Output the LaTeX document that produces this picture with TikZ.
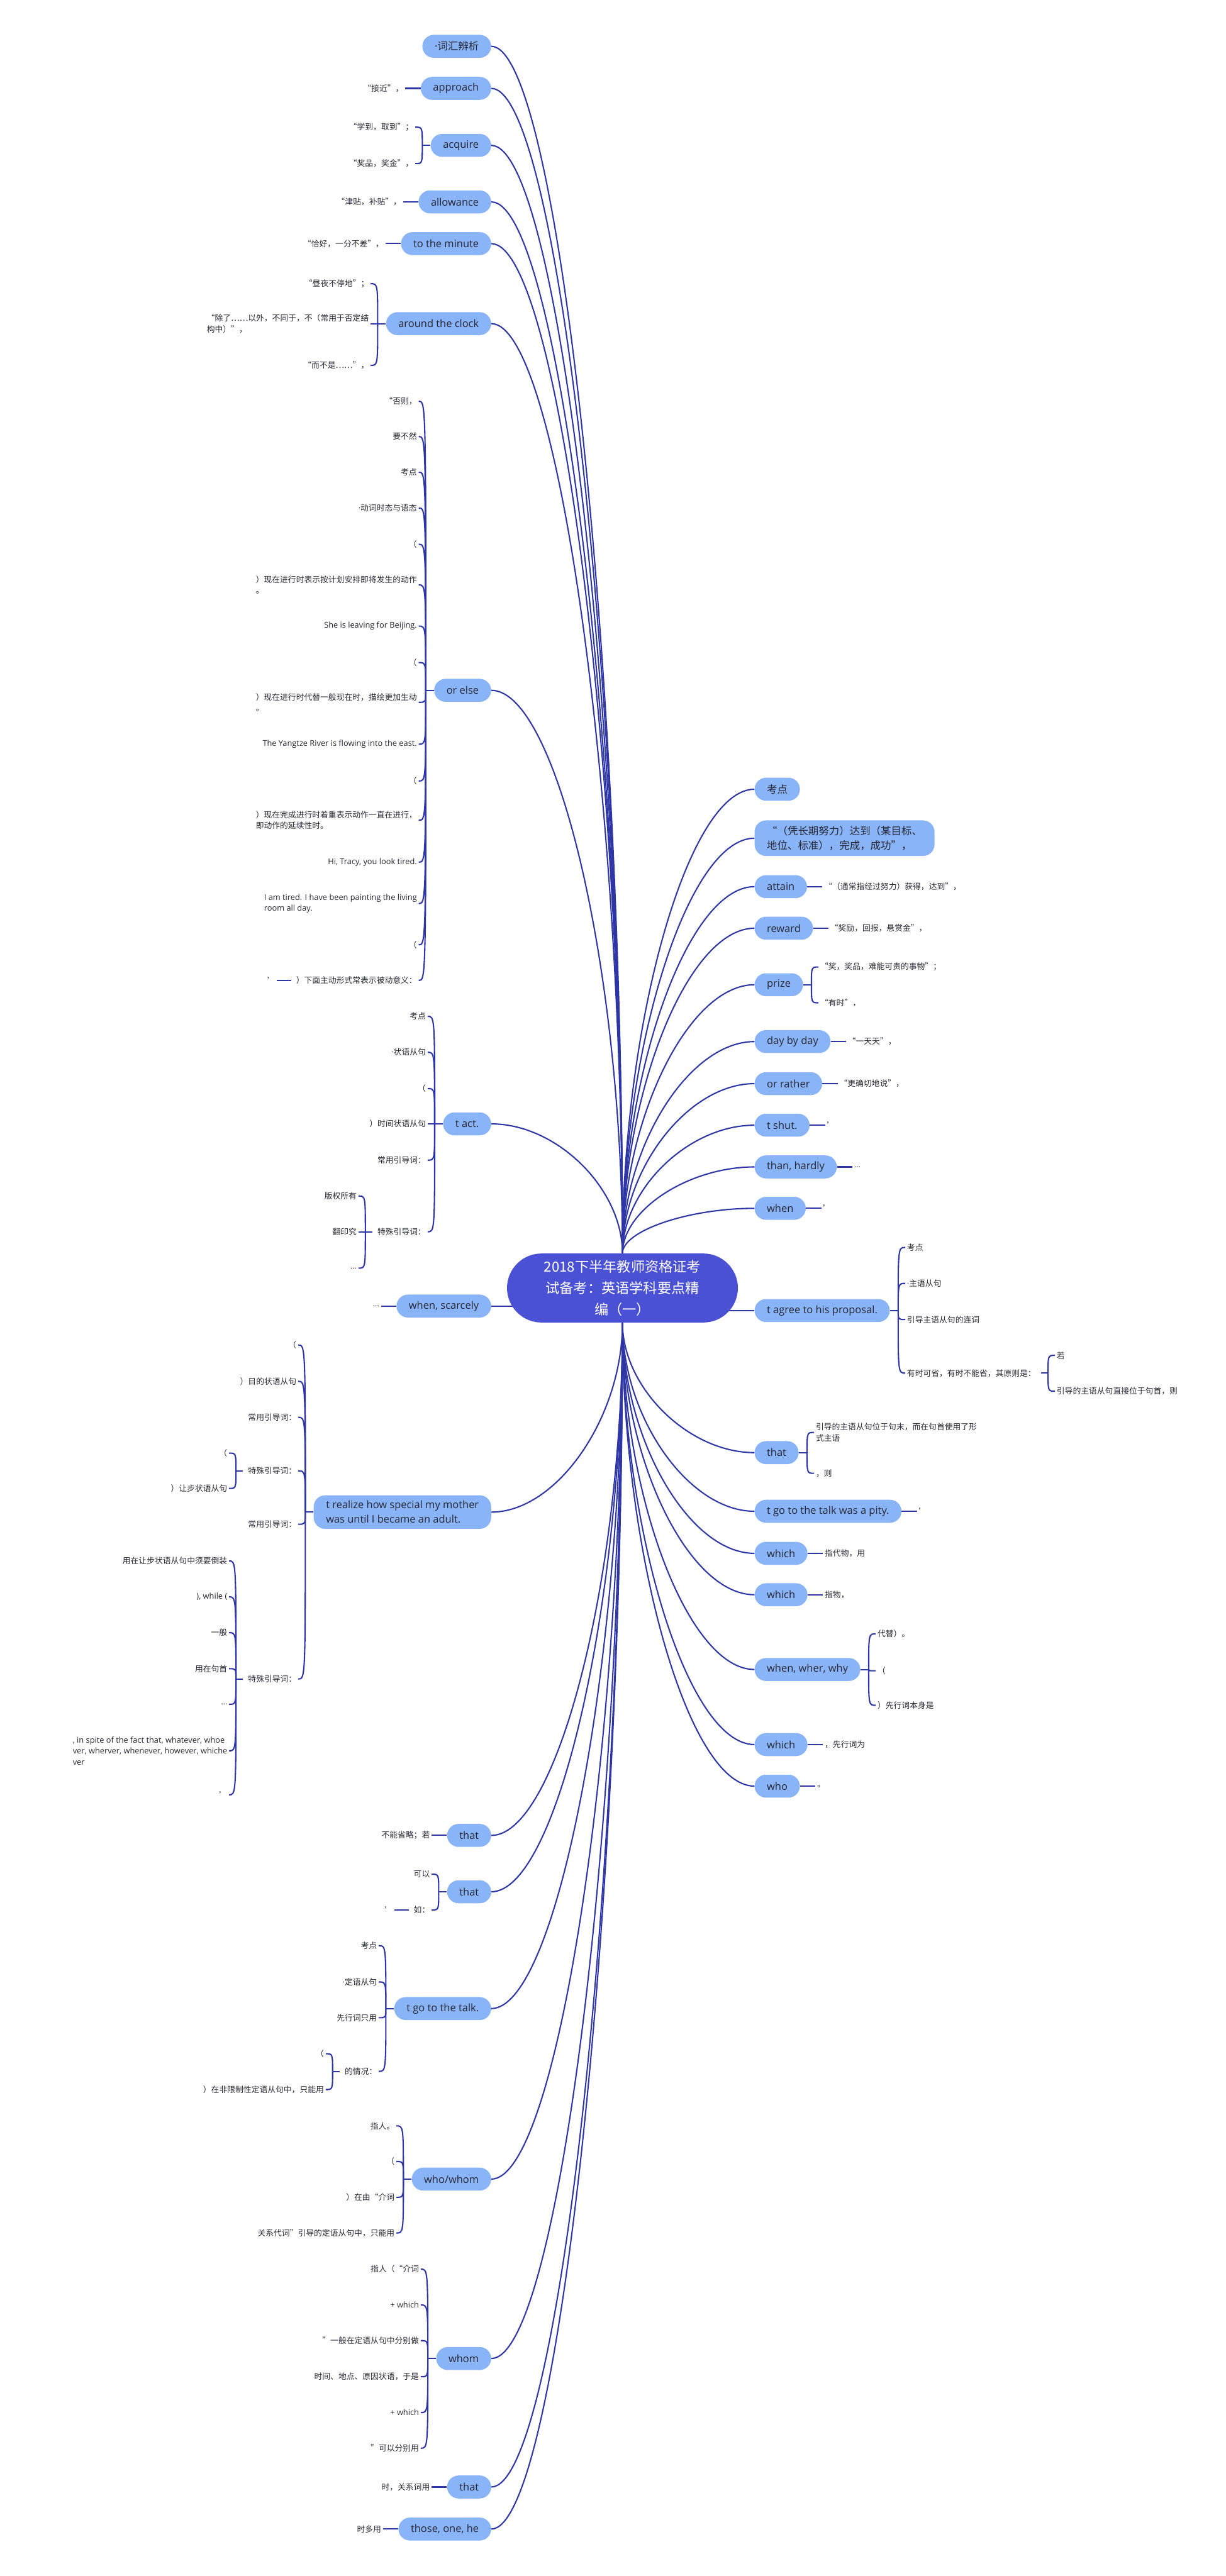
\documentclass[tikz,border=0pt]{standalone}
\usepackage{fontspec}
\setmainfont{Noto Sans CJK SC}
\newfontfamily\latin{Open Sans}
\usetikzlibrary{calc,backgrounds}
\definecolor{rootblue}{RGB}{74,81,212}
\definecolor{topicblue}{RGB}{138,180,248}
\definecolor{linkblue}{RGB}{46,54,166}
\definecolor{inkgray}{RGB}{38,38,50}
\newcommand{\md}{{\latin ·}}

\begin{document}
\begin{tikzpicture}[x=2pt, y=-2pt,
    root/.style={fill=rootblue, text=white, rounded corners=42pt, minimum width=281pt, minimum height=84pt, align=center, font=\fontsize{17}{26}\selectfont},
    topic/.style={fill=topicblue, text=inkgray, rounded corners=14pt, minimum height=28pt, inner xsep=15pt, inner ysep=6.8pt, align=left, font=\fontsize{12.6}{17.6}\selectfont},
    etopic/.style={topic, font=\latin\fontsize{12.6}{17.6}\selectfont},
    leaf/.style={text=inkgray, inner sep=2pt, align=left, font=\fontsize{9.8}{13.4}\selectfont},
    eleaf/.style={leaf, font=\latin\fontsize{9.8}{13.4}\selectfont},
    link/.style={draw=linkblue, line width=1.6pt},
    branch/.style={link, to path={.. controls ($(\tikztostart)!0.5!(\tikztostart |- \tikztotarget)$) and ($(\tikztotarget)!0.5!(\tikztotarget -| \tikztostart)$) .. (\tikztotarget)}},
    hook/.style={link, to path={.. controls (\tikztostart |- \tikztotarget) and (\tikztostart |- \tikztotarget) .. (\tikztotarget)}}]
\useasboundingbox (0,0) rectangle (746,1568);

\node[root] (root) at (378.8,784) {2018下半年教师资格证考\\试备考：英语学科要点精\\编（一）};

% left topics
\node[topic, anchor=east] (cihui) at (299,28.2) {\md 词汇辨析};
\node[etopic, anchor=east] (approach) at (299,53.8) {approach};
\node[etopic, anchor=east] (acquire) at (299,88.5) {acquire};
\node[etopic, anchor=east] (allowance) at (299,122.9) {allowance};
\node[etopic, anchor=east] (minute) at (299,148.3) {to the minute};
\node[etopic, anchor=east] (clock) at (299,197) {around the clock};
\node[etopic, anchor=east] (orelse) at (299,420.2) {or else};
\node[etopic, anchor=east] (tact) at (299,684.1) {t act.};
\node[etopic, anchor=east] (scarcely) at (299,795) {when, scarcely};
\node[etopic, anchor=east] (realize) at (299,920.4) {t realize how special my mother\\was until I became an adult.};
\node[etopic, anchor=east] (thatA) at (299,1117.2) {that};
\node[etopic, anchor=east] (thatB) at (299,1151.5) {that};
\node[etopic, anchor=east] (gotalk) at (299,1222.6) {t go to the talk.};
\node[etopic, anchor=east] (whowhom) at (299,1326.4) {who/whom};
\node[etopic, anchor=east] (whom) at (299,1435.6) {whom};
\node[etopic, anchor=east] (thatC) at (299,1513.8) {that};
\node[etopic, anchor=east] (those) at (299,1539.4) {those, one, he};

% right topics
\node[topic, anchor=west] (kaodian) at (459.1,480.4) {考点};
\node[topic, anchor=west] (pingchang) at (459.1,510.2) {“（凭长期努力）达到（某目标、\\地位、标准），完成，成功”，};
\node[etopic, anchor=west] (attain) at (459.1,539.7) {attain};
\node[etopic, anchor=west] (reward) at (459.1,565) {reward};
\node[etopic, anchor=west] (prize) at (459.1,599.4) {prize};
\node[etopic, anchor=west] (daybyday) at (459.1,634) {day by day};
\node[etopic, anchor=west] (orrather) at (459.1,659.6) {or rather};
\node[etopic, anchor=west] (tshut) at (459.1,684.9) {t shut.};
\node[etopic, anchor=west] (hardly) at (459.1,710.3) {than, hardly};
\node[etopic, anchor=west] (whenR) at (459.1,735.5) {when};
\node[etopic, anchor=west] (agree) at (459.1,797.7) {t agree to his proposal.};
\node[etopic, anchor=west] (thatR) at (459.1,884.2) {that};
\node[etopic, anchor=west] (pity) at (459.1,919.9) {t go to the talk was a pity.};
\node[etopic, anchor=west] (whichA) at (459.1,945.5) {which};
\node[etopic, anchor=west] (whichB) at (459.1,970.7) {which};
\node[etopic, anchor=west] (whenwhy) at (459.1,1016.2) {when, wher, why};
\node[etopic, anchor=west] (whichC) at (459.1,1061.9) {which};
\node[etopic, anchor=west] (who) at (459.1,1087.2) {who};

% single leaves
\foreach \s/\n/\t in {leaf/approach/{“接近”，}, leaf/allowance/{“津贴，补贴”，}, leaf/minute/{“恰好，一分不差”，},
    eleaf/scarcely/{…}, leaf/thatA/{不能省略；若}, leaf/thatC/{时，关系词用}, leaf/those/{时多用}}
  {\node[\s, anchor=east] (\n-1) at ($(\n.west)+(-9.3,0)$) {\t};
   \draw[link] (\n.west) -- (\n-1.east);}
\foreach \s/\n/\t in {leaf/attain/{“（通常指经过努力）获得，达到”，}, leaf/reward/{“奖励，回报，悬赏金”，},
    leaf/daybyday/{“一天天”，}, leaf/orrather/{“更确切地说”，}, leaf/tshut/{’}, eleaf/hardly/{…}, leaf/whenR/{’},
    leaf/pity/{’}, leaf/whichA/{指代物，用}, leaf/whichB/{指物，}, leaf/whichC/{，先行词为}, leaf/who/{。}}
  {\node[\s, anchor=west] (\n-1) at ($(\n.east)+(9.3,0)$) {\t};
   \draw[link] (\n.east) -- (\n-1.west);}

% bracket spines
\foreach \n in {acquire,clock,orelse,tact,realize,thatB,gotalk,whowhom,whom}
  {\coordinate (\n-s) at ($(\n.west)+(-5,0)$);
   \coordinate (\n-h) at ($(\n.west)+(-9.3,0)$);
   \draw[link] (\n.west) -- (\n-s);}
\foreach \n in {prize,agree,thatR,whenwhy}
  {\coordinate (\n-s) at ($(\n.east)+(5,0)$);
   \coordinate (\n-h) at ($(\n.east)+(9.3,0)$);
   \draw[link] (\n.east) -- (\n-s);}

\foreach \s/\t/\y [count=\i] in {leaf/{“学到，取到”；}/77.4, leaf/{“奖品，奖金”，}/99.6}
  {\node[\s, anchor=east] (acquire-\i) at (acquire-h |- 0,\y) {\t};
   \draw[hook] (acquire-s) to (acquire-\i.east);}
\foreach \s/\t/\y [count=\i] in {leaf/{“昼夜不停地”；}/172.7, leaf/{“除了……以外，不同于，不（常用于否定结\\构中）”，}/197, leaf/{“而不是……”，}/222.4}
  {\node[\s, anchor=east] (clock-\i) at (clock-h |- 0,\y) {\t};
   \draw[hook] (clock-s) to (clock-\i.east);}
\foreach \s/\t/\y [count=\i] in {leaf/{“否则，}/244.2, leaf/{要不然}/265.7, leaf/{考点}/287.4, leaf/{\md 动词时态与语态}/309.2,
    leaf/{（}/331.3, leaf/{）现在进行时表示按计划安排即将发生的动作\\。}/356, eleaf/{She is leaving for Beijing.}/381.1,
    leaf/{（}/403.3, leaf/{）现在进行时代替一般现在时，描绘更加生动\\。}/427.5, eleaf/{The Yangtze River is flowing into the east.}/453,
    leaf/{（}/475.4, leaf/{）现在完成进行时着重表示动作一直在进行，\\即动作的延续性时。}/499.3, eleaf/{Hi, Tracy, you look tired.}/524.8,
    eleaf/{I am tired. I have been painting the living\\room all day.}/550, leaf/{（}/575.1, leaf/{）下面主动形式常表示被动意义：}/596.8}
  {\node[\s, anchor=east] (orelse-\i) at (orelse-h |- 0,\y) {\t};
   \draw[hook] (orelse-s) to (orelse-\i.east);}
\foreach \s/\t/\y [count=\i] in {leaf/{考点}/618.6, leaf/{\md 状语从句}/640.5, leaf/{（}/662.6, leaf/{）时间状语从句}/684.1,
    leaf/{常用引导词：}/706.2, leaf/{特殊引导词：}/749.8}
  {\node[\s, anchor=east] (tact-\i) at (tact-h |- 0,\y) {\t};
   \draw[hook] (tact-s) to (tact-\i.east);}
\foreach \s/\t/\y [count=\i] in {leaf/{（}/818.7, leaf/{）目的状语从句}/840.8, leaf/{常用引导词：}/862.7,
    leaf/{特殊引导词：}/895.3, leaf/{常用引导词：}/927.8, leaf/{特殊引导词：}/1022}
  {\node[\s, anchor=east] (realize-\i) at (realize-h |- 0,\y) {\t};
   \draw[hook] (realize-s) to (realize-\i.east);}
\foreach \s/\t/\y [count=\i] in {leaf/{可以}/1140.8, leaf/{如：}/1162.6}
  {\node[\s, anchor=east] (thatB-\i) at (thatB-h |- 0,\y) {\t};
   \draw[hook] (thatB-s) to (thatB-\i.east);}
\foreach \s/\t/\y [count=\i] in {leaf/{考点}/1184.3, leaf/{\md 定语从句}/1206.4, leaf/{先行词只用}/1228.2, leaf/{的情况：}/1260.8}
  {\node[\s, anchor=east] (gotalk-\i) at (gotalk-h |- 0,\y) {\t};
   \draw[hook] (gotalk-s) to (gotalk-\i.east);}
\foreach \s/\t/\y [count=\i] in {leaf/{指人。}/1294, leaf/{（}/1315.7, leaf/{）在由“介词}/1337.5, leaf/{关系代词”引导的定语从句中，只能用}/1359.2}
  {\node[\s, anchor=east] (whowhom-\i) at (whowhom-h |- 0,\y) {\t};
   \draw[hook] (whowhom-s) to (whowhom-\i.east);}
\foreach \s/\t/\y [count=\i] in {leaf/{指人（“介词}/1381.2, eleaf/{+ which}/1403, leaf/{”一般在定语从句中分别做}/1424.7,
    leaf/{时间、地点、原因状语，于是}/1446.7, eleaf/{+ which}/1468.5, leaf/{”可以分别用}/1490.2}
  {\node[\s, anchor=east] (whom-\i) at (whom-h |- 0,\y) {\t};
   \draw[hook] (whom-s) to (whom-\i.east);}

\foreach \s/\t/\y [count=\i] in {leaf/{“奖，奖品，难能可贵的事物”；}/588.6, leaf/{“有时”，}/610.4}
  {\node[\s, anchor=west] (prize-\i) at (prize-h |- 0,\y) {\t};
   \draw[hook] (prize-s) to (prize-\i.west);}
\foreach \s/\t/\y [count=\i] in {leaf/{考点}/759.3, leaf/{\md 主语从句}/781.2, leaf/{引导主语从句的连词}/803.2, leaf/{有时可省，有时不能省，其原则是：}/835.8}
  {\node[\s, anchor=west] (agree-\i) at (agree-h |- 0,\y) {\t};
   \draw[hook] (agree-s) to (agree-\i.west);}
\foreach \s/\t/\y [count=\i] in {leaf/{引导的主语从句位于句末，而在句首使用了形\\式主语}/871.9, leaf/{，则}/896.8}
  {\node[\s, anchor=west] (thatR-\i) at (thatR-h |- 0,\y) {\t};
   \draw[hook] (thatR-s) to (thatR-\i.west);}
\foreach \s/\t/\y [count=\i] in {leaf/{代替）。}/994.5, leaf/{（}/1017, leaf/{）先行词本身是}/1038}
  {\node[\s, anchor=west] (whenwhy-\i) at (whenwhy-h |- 0,\y) {\t};
   \draw[hook] (whenwhy-s) to (whenwhy-\i.west);}

% second level
\foreach \n in {tact-6,realize-4,realize-6,gotalk-4}
  {\coordinate (\n-s) at ($(\n.west)+(-6.3,0)$);
   \coordinate (\n-h) at ($(\n.west)+(-10.5,0)$);
   \draw[link] ([xshift=-4pt]\n.west) -- (\n-s);}
\coordinate (agree-4-s) at ($(agree-4.east)+(6.3,0)$);
\coordinate (agree-4-h) at ($(agree-4.east)+(10.5,0)$);
\draw[link] ([xshift=4pt]agree-4.east) -- (agree-4-s);

\foreach \s/\t/\y [count=\i] in {leaf/{版权所有}/728, leaf/{翻印究}/749.8, eleaf/{…}/771.9}
  {\node[\s, anchor=east] (tact-6-\i) at (tact-6-h |- 0,\y) {\t};
   \draw[hook] (tact-6-s) to (tact-6-\i.east);}
\foreach \s/\t/\y [count=\i] in {leaf/{（}/884.5, leaf/{）让步状语从句}/906}
  {\node[\s, anchor=east] (realize-4-\i) at (realize-4-h |- 0,\y) {\t};
   \draw[hook] (realize-4-s) to (realize-4-\i.east);}
\foreach \s/\t/\y [count=\i] in {leaf/{用在让步状语从句中须要倒装}/950.1, eleaf/{), while (}/972, leaf/{一般}/993.8,
    leaf/{用在句首}/1015.7, eleaf/{…}/1037.4,
    eleaf/{, in spite of the fact that, whatever, whoe\\ver, wherver, whenever, however, whiche\\ver}/1065.7, leaf/{’}/1092.5}
  {\node[\s, anchor=east] (realize-6-\i) at (realize-6-h |- 0,\y) {\t};
   \draw[hook] (realize-6-s) to (realize-6-\i.east);}
\foreach \s/\t/\y [count=\i] in {leaf/{（}/1250.1, leaf/{）在非限制性定语从句中，只能用}/1271.9}
  {\node[\s, anchor=east] (gotalk-4-\i) at (gotalk-4-h |- 0,\y) {\t};
   \draw[hook] (gotalk-4-s) to (gotalk-4-\i.east);}
\foreach \s/\t/\y [count=\i] in {leaf/{若}/825, leaf/{引导的主语从句直接位于句首，则}/846.8}
  {\node[\s, anchor=west] (agree-4-\i) at (agree-4-h |- 0,\y) {\t};
   \draw[hook] (agree-4-s) to (agree-4-\i.west);}

\foreach \n in {orelse-16,thatB-2}
  {\node[leaf, anchor=east] (\n-1) at ($(\n.west)+(-10.5,0)$) {’};
   \draw[link] ([xshift=-4pt]\n.west) -- (\n-1.east);}

% branches from the root
\begin{scope}[on background layer]
  \foreach \n in {cihui,approach,acquire,allowance,minute,clock,orelse,tact}
    \draw[branch] (root.north) to (\n.east);
  \foreach \n in {kaodian,pingchang,attain,reward,prize,daybyday,orrather,tshut,hardly,whenR}
    \draw[branch] (root.north) to (\n.west);
  \foreach \n in {realize,thatA,thatB,gotalk,whowhom,whom,thatC,those}
    \draw[branch] (root.south) to (\n.east);
  \foreach \n in {thatR,pity,whichA,whichB,whenwhy,whichC,who}
    \draw[branch] (root.south) to (\n.west);
  \draw[link] (scarcely.east) -- (scarcely.east -| root.center);
  \draw[link] (agree.west) -- (agree.west -| root.center);
\end{scope}
\end{tikzpicture}
\end{document}
